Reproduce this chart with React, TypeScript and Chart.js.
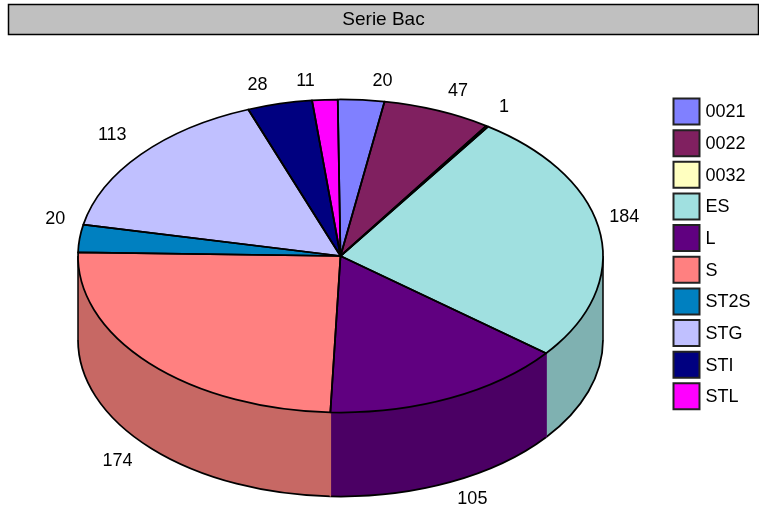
import React, { useEffect, useRef } from "react";
import { Chart, registerables } from "chart.js";

Chart.register(...registerables);

const categories = ["0021", "0022", "0032", "ES", "L", "S", "ST2S", "STG", "STI", "STL"];
const values = [20, 47, 1, 184, 105, 174, 20, 113, 28, 11];
const colors = ["#8080FF", "#802060", "#FFFFC0", "#A0E0E0", "#600080", "#FF8080", "#0080C0", "#C0C0FF", "#000080", "#FF00FF"];
const wallColors = ["#6464C7", "#64194B", "#C7C796", "#7FB1B1", "#4B0064", "#C76864", "#006496", "#9696C7", "#000064", "#C700C7"];
const labelNudgeX = [10, 4, 2, -8, 0, -4, 3, -1, -8, -9];
const labelNudgeY = [2.5, 0.5, -1.5, -12.5, -2.5, -0.5, -16.5, -5.5, 2.5, 2.5];

const FONT = '"Liberation Sans", Arial, sans-serif';
const CX = 340.5, CY = 256, RX = 262.5, RY = 156.5, DEPTH = 84;
const LEGEND_TEXT_SHIFT_X = 3;
const LEGEND_TEXT_SHIFT_Y = 1;

const pie3d = {
  id: "pie3d",
  afterLayout(chart: any) {
    const t = chart.titleBlock;
    t.left = 8; t.right = 759;
    const h = t.bottom - t.top;
    t.top = 19.5 - h / 2; t.bottom = t.top + h;
    const l = chart.legend;
    const pad = l.options.labels.padding;
    const w = l.right - l.left, lh = l.bottom - l.top;
    l.left = 673.5 - pad; l.right = l.left + w;
    l.top = 98.5 - pad; l.bottom = l.top + lh;
    if (!l.__wrapped) {
      l.__wrapped = true;
      const draw = l.draw;
      l.draw = function () {
        const c = chart.ctx;
        const fill = c.fillText;
        c.fillText = (s: string, x: number, y: number) =>
          fill.call(c, s, x - LEGEND_TEXT_SHIFT_X, y + LEGEND_TEXT_SHIFT_Y);
        draw.call(l);
        delete c.fillText;
      };
    }
  },
  beforeDraw(chart: any) {
    const c = chart.ctx;
    c.save();
    c.fillStyle = "#fff";
    c.fillRect(0, 0, chart.width, chart.height);
    c.fillStyle = "#C0C0C0";
    c.strokeStyle = "#000";
    c.lineWidth = 1.5;
    c.fillRect(8.5, 4.5, 750, 30);
    c.strokeRect(8.5, 4.5, 750, 30);
    c.restore();
  },
  beforeDatasetsDraw(chart: any) {
    const c = chart.ctx;
    const arcs = chart.getDatasetMeta(0).data;
    c.save();
    arcs.forEach((arc: any, i: number) => {
      const a = Math.max(arc.startAngle, 0);
      const b = Math.min(arc.endAngle, Math.PI);
      if (b <= a) return;
      c.beginPath();
      c.ellipse(CX, CY, RX, RY, 0, a, b);
      c.ellipse(CX, CY + DEPTH, RX, RY, 0, b, a, true);
      c.closePath();
      c.fillStyle = wallColors[i];
      c.fill();
      c.beginPath();
      c.ellipse(CX, CY + DEPTH, RX, RY, 0, a, b);
      c.strokeStyle = "#000";
      c.lineWidth = 1.75;
      c.stroke();
      if (a > 0) {
        const x = CX + RX * Math.cos(a), y = CY + RY * Math.sin(a);
        c.beginPath();
        c.moveTo(x, y);
        c.lineTo(x, y + DEPTH);
        c.strokeStyle = wallColors[i];
        c.lineWidth = 1.5;
        c.stroke();
      }
    });
    c.strokeStyle = "#000";
    c.lineWidth = 1.5;
    [CX - RX, CX + RX].forEach((x) => {
      c.beginPath();
      c.moveTo(x, CY);
      c.lineTo(x, CY + DEPTH);
      c.stroke();
    });
    c.restore();
  },
  beforeDatasetDraw(chart: any) {
    const c = chart.ctx;
    const arc = chart.getDatasetMeta(0).data[0];
    c.save();
    c.translate(CX, CY);
    c.scale(RX / arc.outerRadius, RY / arc.outerRadius);
    c.translate(-arc.x, -arc.y);
  },
  afterDatasetDraw(chart: any) {
    const c = chart.ctx;
    c.restore();
    const arcs = chart.getDatasetMeta(0).data;
    c.save();
    c.strokeStyle = "#000";
    c.lineWidth = 1.75;
    c.lineJoin = "round";
    arcs.forEach((arc: any) => {
      c.beginPath();
      c.moveTo(CX, CY);
      c.ellipse(CX, CY, RX, RY, 0, arc.startAngle, arc.endAngle);
      c.closePath();
      c.stroke();
    });
    c.fillStyle = "#000";
    c.font = `18px ${FONT}`;
    c.textBaseline = "middle";
    arcs.forEach((arc: any, i: number) => {
      const mid = (arc.startAngle + arc.endAngle) / 2;
      const sx = Math.cos(mid), sy = Math.sin(mid);
      const x = CX + 280 * sx + labelNudgeX[i];
      const y = CY + 178 * sy + (sy > 0 ? DEPTH : 0) + labelNudgeY[i];
      c.textAlign = sx >= 0 ? "left" : "right";
      c.fillText(String(values[i]), x, y);
    });
    c.restore();
  },
};

export default function App() {
  const ref = useRef<HTMLCanvasElement | null>(null);
  useEffect(() => {
    const chart = new Chart(ref.current as HTMLCanvasElement, {
      type: "pie",
      data: {
        labels: categories,
        datasets: [{ data: values, backgroundColor: colors, borderWidth: 0, clip: false } as any],
      },
      options: {
        animation: false,
        responsive: false,
        devicePixelRatio: 1,
        rotation: -0.6,
        plugins: {
          tooltip: { enabled: false },
          title: {
            display: true,
            text: "Serie Bac",
            color: "#000",
            padding: 0,
            font: { family: FONT, size: 19, weight: "normal" },
          },
          legend: {
            position: "right",
            align: "start",
            labels: {
              boxWidth: 26,
              boxHeight: 26,
              padding: 5.65,
              color: "#000",
              font: { family: FONT, size: 18 },
              generateLabels: () =>
                categories.map((text, i) => ({
                  text,
                  fillStyle: colors[i],
                  strokeStyle: "#222",
                  lineWidth: 2,
                  hidden: false,
                  index: i,
                })),
            },
          },
        },
      } as any,
      plugins: [pie3d],
    });
    return () => chart.destroy();
  }, []);
  return (
    <div style={{ position: "absolute", left: 0, top: 0, width: 759, height: 506 }}>
      <canvas ref={ref} width={759} height={506} style={{ display: "block" }} />
    </div>
  );
}
